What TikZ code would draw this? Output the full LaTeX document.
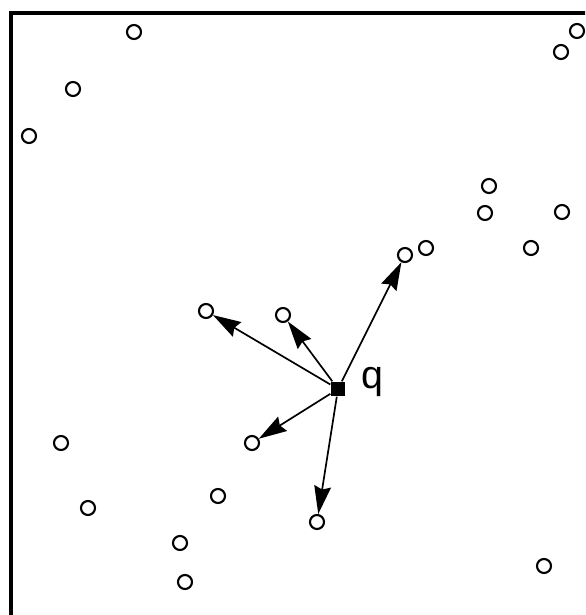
\documentclass[tikz,border=0pt]{standalone}
\usepackage{fontspec}
\newfontfamily\qfont{Liberation Sans}
\usetikzlibrary{arrows.meta}
\begin{document}
\begin{tikzpicture}[x=0.025cm,y=-0.025cm,
  pt/.style={draw,circle,line width=1.5pt,inner sep=0pt,minimum size=0.35cm},
  qpt/.style={fill,inner sep=0pt,minimum size=0.37cm},
  nn/.style={-{Stealth[length=7mm,width=4.2mm,inset=0.8mm]},line width=1.2pt}]
\useasboundingbox (0,0) rectangle (585,615);
\clip (0,0) rectangle (585,615);
\draw[line width=3.2pt] (11,640) -- (11,13) -- (600,13);
\path node[pt] (p1) at (134,32) {}
node[pt] (p2) at (577,31) {}
node[pt] (p3) at (561,52) {}
node[pt] (p4) at (73,89) {}
node[pt] (p5) at (29,136) {}
node[pt] (p6) at (489,186) {}
node[pt] (p7) at (485,213) {}
node[pt] (p8) at (562,212) {}
node[pt] (p9) at (531,248) {}
node[pt] (p10) at (426,248) {}
node[pt] (p11) at (405,255) {}
node[pt] (p12) at (206,311) {}
node[pt] (p13) at (283,315) {}
node[pt] (p14) at (252,443) {}
node[pt] (p15) at (61,443) {}
node[pt] (p16) at (218,496) {}
node[pt] (p17) at (88,508) {}
node[pt] (p18) at (317,522) {}
node[pt] (p19) at (180,543) {}
node[pt] (p20) at (185,582) {}
node[pt] (p21) at (544,566) {}
node[qpt] (q) at (338,389) {}
node[anchor=base west,inner sep=0pt,font=\qfont\fontsize{28}{32}\selectfont] (qlab) at (361,388) {q}
;
\draw[nn] (q) -- (p11);
\draw[nn] (q) -- (p12);
\draw[nn] (q) -- (p13);
\draw[nn] (q) -- (p14);
\draw[nn] (q) -- (p18);
\end{tikzpicture}
\end{document}
